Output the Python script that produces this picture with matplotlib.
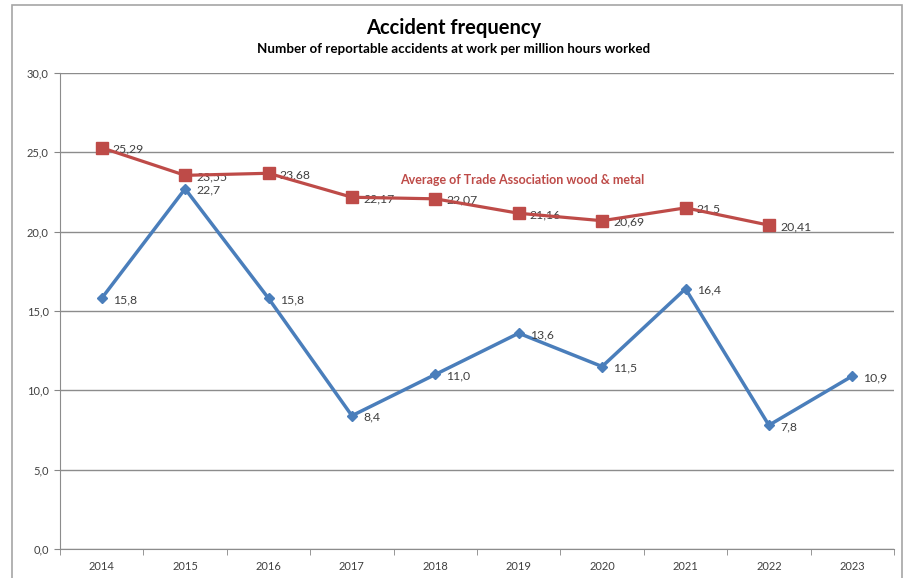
import numpy as np
import matplotlib.pyplot as plt
from matplotlib.patches import Rectangle

# Kategorien und Werte
years = ['2014', '2015', '2016', '2017', '2018', '2019', '2020', '2021', '2022', '2023']
company = [15.8, 22.7, 15.8, 8.4, 11.0, 13.6, 11.5, 16.4, 7.8, 10.9]
trade_avg = [25.29, 23.55, 23.68, 22.17, 22.07, 21.16, 20.69, 21.5, 20.41]
y_ticks = [0, 5, 10, 15, 20, 25, 30]

plt.rcParams['font.family'] = ['Lato', 'DejaVu Sans']

blue = '#4A7EBB'
red = '#BE4B48'
grey_txt = '#404040'

fig = plt.figure(figsize=(9.08, 5.78), dpi=100)
ax = fig.add_axes([60 / 908, 29 / 578, 834 / 908, 476 / 578])

# Rahmen um das ganze Diagramm
fig.patches.append(Rectangle((12 / 908, -0.01), 890 / 908, 1 - 5 / 578 + 0.01,
                             transform=fig.transFigure, fill=False,
                             edgecolor='#A6A6A6', lw=1.2))

x = np.arange(len(years))
ax.plot(x[:len(trade_avg)], trade_avg, color=red, lw=2.3, marker='s',
        markersize=8, zorder=3)
ax.plot(x, company, color=blue, lw=2.5, marker='D', markersize=5, zorder=4)

def fmt(v, digits):
    return f'{v:.{digits}f}'.replace('.', ',')

for xi, v in zip(x, trade_avg):
    s = str(v).replace('.', ',')
    ax.annotate(s, (xi, v), xytext=(8, -1), textcoords='offset points',
                va='center', ha='left', fontsize=8.8, color=grey_txt, zorder=2)
for xi, v in zip(x, company):
    ax.annotate(fmt(v, 1), (xi, v), xytext=(8, -1), textcoords='offset points',
                va='center', ha='left', fontsize=8.8, color=grey_txt, zorder=5)

ax.text(5.04, 23.25, 'Average of Trade Association wood & metal', color=red,
        fontsize=9, fontweight='bold', ha='center', va='center')

ax.set_xlim(-0.5, len(years) - 0.5)
ax.set_ylim(0, 30)
ax.set_yticks(y_ticks)
ax.set_yticklabels([fmt(v, 1) for v in y_ticks])
ax.set_xticks(x)
ax.set_xticklabels(years)
ax.set_xticks(np.arange(-0.5, len(years)), minor=True)
ax.tick_params(axis='x', which='major', length=0, pad=9, labelsize=8,
               labelcolor=grey_txt)
ax.tick_params(axis='x', which='minor', length=4, color='#868686', direction='out')
ax.tick_params(axis='y', length=4, color='#868686', labelsize=8,
               labelcolor=grey_txt, pad=4)

ax.grid(axis='y', color='#8C8C8C', lw=1.0)
ax.set_axisbelow(True)
for side in ['top', 'right']:
    ax.spines[side].set_visible(False)
for side in ['left', 'bottom']:
    ax.spines[side].set_color('#8C8C8C')

fig.text(0.5, 1 - 28 / 578, 'Accident frequency', ha='center', va='center',
         fontsize=14.5, fontweight='bold')
fig.text(0.5, 1 - 49 / 578,
         'Number of reportable accidents at work per million hours worked',
         ha='center', va='center', fontsize=9.6, fontweight='bold')

fig.savefig('out.png', dpi=100)
